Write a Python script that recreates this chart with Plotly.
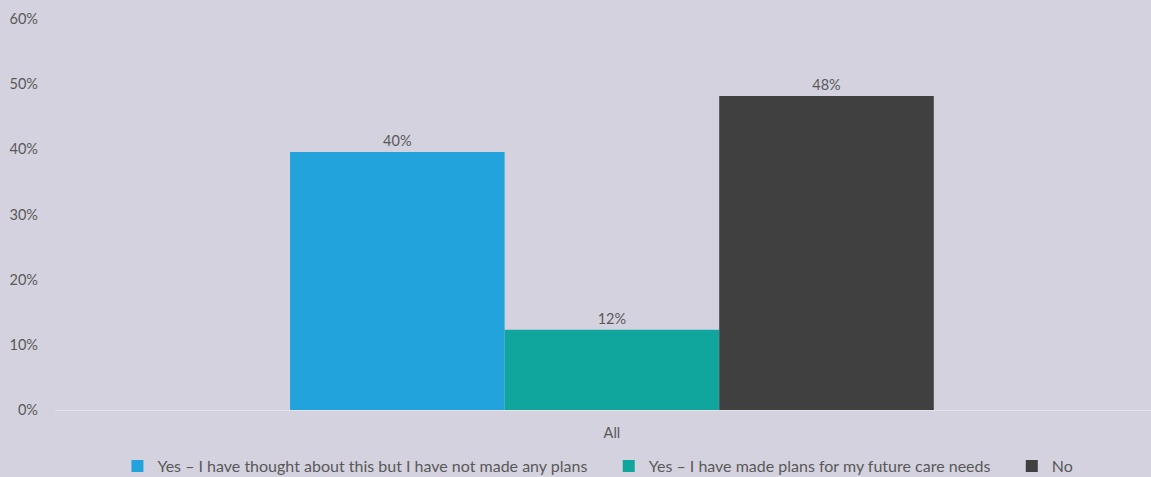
import plotly.graph_objects as go

categories = ["All"]
series_names = [
    "Yes – I have thought about this but I have not made any plans",
    "Yes – I have made plans for my future care needs",
    "No",
]
series_values = [[39.6], [12.3], [48.2]]
series_labels = ["40%", "12%", "48%"]
series_colors = ["#22A3DB", "#10A59D", "#404040"]
y_ticks = [0, 10, 20, 30, 40, 50, 60]
y_tick_labels = ["0%", "10%", "20%", "30%", "40%", "50%", "60%"]

FONT = "Lato, 'Open Sans', sans-serif"
TXT = "#595959"
PAD = "\u00a0" * 4

fig = go.Figure()
for i, (name, vals, lab, col) in enumerate(zip(series_names, series_values, series_labels, series_colors)):
    fig.add_trace(go.Bar(
        x=categories, y=vals, name=name + (PAD if i < len(series_names) - 1 else ""),
        marker=dict(color=col, line=dict(width=0)),
        text=[lab], textposition="outside", cliponaxis=False,
        textfont=dict(family=FONT, size=14.5, color=TXT),
    ))

fig.update_layout(
    width=1151, height=477,
    paper_bgcolor="#D4D2DE", plot_bgcolor="#D4D2DE",
    margin=dict(l=55, r=0, t=19, b=67),
    barmode="group", bargap=0.422, bargroupgap=0,
    font=dict(family=FONT, size=14, color=TXT),
    showlegend=True,
    legend=dict(orientation="h", x=0.5195, xref="container", xanchor="center",
                y=0.023, yref="container", yanchor="middle",
                font=dict(family=FONT, size=16, color=TXT), itemwidth=30,
                traceorder="normal", bgcolor="rgba(0,0,0,0)"),
    xaxis=dict(range=[-0.5, 0.484], showgrid=False, zeroline=False, showline=True,
               linecolor="#E4E2EA", linewidth=1, ticks="", ticklabelstandoff=10,
               tickfont=dict(family=FONT, size=14.5, color=TXT)),
    yaxis=dict(range=[0, 60], tickvals=y_ticks, ticktext=y_tick_labels, showgrid=False,
               zeroline=False, showline=False, ticks="", ticklabelstandoff=16,
               tickfont=dict(family=FONT, size=14.5, color=TXT)),
)

fig.write_html("out.html", config={"displayModeBar": False},
               post_script="document.body.style.margin='0';document.body.style.overflow='hidden';")
